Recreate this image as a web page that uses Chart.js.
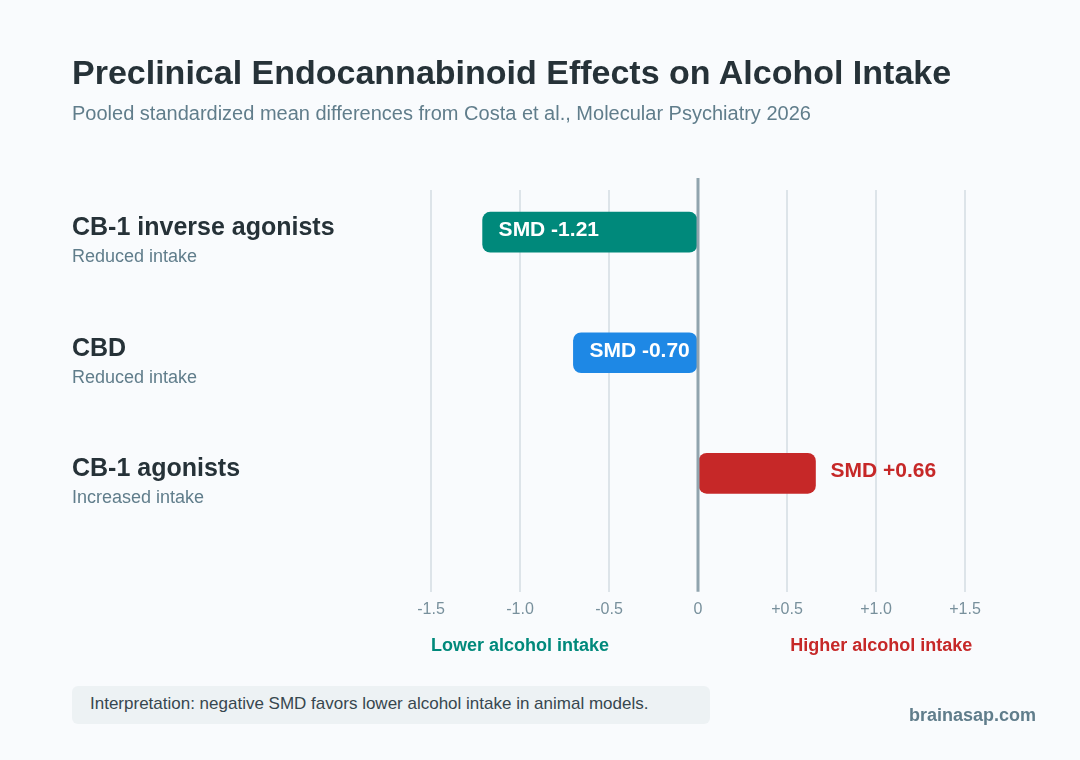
<!DOCTYPE html>
<html>
<head>
<meta charset="utf-8">
<script src="https://cdn.jsdelivr.net/npm/chart.js@4"></script>
<style>
  html, body { margin: 0; padding: 0; background: #f9fbfd; }
  body { width: 1080px; height: 760px; position: relative; overflow: hidden;
         font-family: "Liberation Sans", Arial, sans-serif; }
  #chartWrap { position: absolute; left: 0; top: 0; width: 1080px; height: 760px; }
  h1 { position: absolute; left: 72px; top: 53px; margin: 0; font-size: 34px; font-weight: bold; color: #263238; }
  .sub { position: absolute; left: 72px; top: 102px; font-size: 20px; color: #607d8b; }
  .note { position: absolute; left: 72px; top: 686px; width: 638px; height: 38px; border-radius: 6px;
          background: #edf2f4; color: #37474f; font-size: 17px; line-height: 36px; box-sizing: border-box; padding-left: 18px; }
  .brand { position: absolute; right: 44px; top: 705px; font-size: 18px; font-weight: bold; color: #607d8b; }
</style>
</head>
<body>
<div id="chartWrap"><canvas id="chartSmd"></canvas></div>
<h1>Preclinical Endocannabinoid Effects on Alcohol Intake</h1>
<div class="sub">Pooled standardized mean differences from Costa et al., Molecular Psychiatry 2026</div>
<div class="note">Interpretation: negative SMD favors lower alcohol intake in animal models.</div>
<div class="brand">brainasap.com</div>
<script>
// Pooled SMD per drug class
const categories = ['CB-1 inverse agonists', 'CBD', 'CB-1 agonists'];
const effectNotes = ['Reduced intake', 'Reduced intake', 'Increased intake'];
const smdValues = [-1.21, -0.70, 0.66];
const barColors = ['#00897b', '#1e88e5', '#c62828'];
const tickValues = [-1.5, -1.0, -0.5, 0, 0.5, 1.0, 1.5];
const tickLabels = ['-1.5', '-1.0', '-0.5', '0', '+0.5', '+1.0', '+1.5'];
const directionLabels = ['Lower alcohol intake', 'Higher alcohol intake'];

const FONT = '"Liberation Sans", Arial, sans-serif';

const decorPlugin = {
  id: 'decor',
  afterDatasetsDraw(chart) {
    const { ctx, chartArea, scales } = chart;
    const x = scales.x, y = scales.y;
    ctx.save();

    // zero line
    const x0 = x.getPixelForValue(0);
    ctx.strokeStyle = '#90a4ae';
    ctx.lineWidth = 3;
    ctx.beginPath();
    ctx.moveTo(x0, chartArea.top - 12);
    ctx.lineTo(x0, chartArea.bottom);
    ctx.stroke();

    // category labels on the left
    categories.forEach((name, i) => {
      const py = y.getPixelForValue(i);
      ctx.textAlign = 'left';
      ctx.textBaseline = 'middle';
      ctx.fillStyle = '#263238';
      ctx.font = 'bold 25px ' + FONT;
      ctx.fillText(name, 72, py - 4);
      ctx.fillStyle = '#607d8b';
      ctx.font = '18px ' + FONT;
      ctx.fillText(effectNotes[i], 72, py + 25);
    });

    // value labels
    const meta = chart.getDatasetMeta(0);
    meta.data.forEach((bar, i) => {
      const v = smdValues[i];
      const txt = 'SMD ' + (v > 0 ? '+' : '') + v.toFixed(2);
      ctx.font = 'bold 21px ' + FONT;
      ctx.textBaseline = 'middle';
      ctx.textAlign = 'left';
      if (v < 0) {
        ctx.fillStyle = '#ffffff';
        ctx.fillText(txt, x.getPixelForValue(v) + 16, bar.y - 2);
      } else {
        ctx.fillStyle = barColors[i];
        ctx.fillText(txt, x.getPixelForValue(v) + 15, bar.y - 2);
      }
    });

    // direction labels
    ctx.font = 'bold 18px ' + FONT;
    ctx.textAlign = 'center';
    ctx.fillStyle = '#00897b';
    ctx.fillText(directionLabels[0], x.getPixelForValue(-1.0), 646);
    ctx.fillStyle = '#c62828';
    ctx.fillText(directionLabels[1], x.getPixelForValue(1.03), 646);
    ctx.restore();
  }
};

const ctx = document.getElementById('chartSmd').getContext('2d');
new Chart(ctx, {
  type: 'bar',
  data: {
    datasets: [{
      data: smdValues.map((v, i) => ({ x: [0, v], y: i })),
      backgroundColor: barColors,
      borderRadius: 8,
      borderSkipped: false,
      barThickness: 40,
    }],
  },
  options: {
    indexAxis: 'y',
    responsive: true,
    maintainAspectRatio: false,
    animation: false,
    layout: { padding: { left: 431, right: 115, top: 190, bottom: 133 } },
    plugins: {
      legend: { display: false },
      tooltip: { enabled: false },
    },
    scales: {
      x: {
        type: 'linear',
        min: -1.5,
        max: 1.5,
        afterBuildTicks: (axis) => { axis.ticks = tickValues.map(v => ({ value: v })); },
        ticks: {
          callback: (v) => tickLabels[tickValues.indexOf(v)],
          color: '#78909c',
          font: { size: 16, family: FONT },
          padding: 8,
        },
        grid: {
          color: (c) => (c.tick && c.tick.value === 0 ? 'rgba(0,0,0,0)' : '#dde4e9'),
          lineWidth: 2,
          drawTicks: false,
        },
        border: { display: false },
      },
      y: {
        type: 'linear',
        display: false,
        reverse: true,
        offset: false,
        min: -0.35,
        max: 2.983,
      },
    },
  },
  plugins: [decorPlugin],
});
</script>
</body>
</html>
